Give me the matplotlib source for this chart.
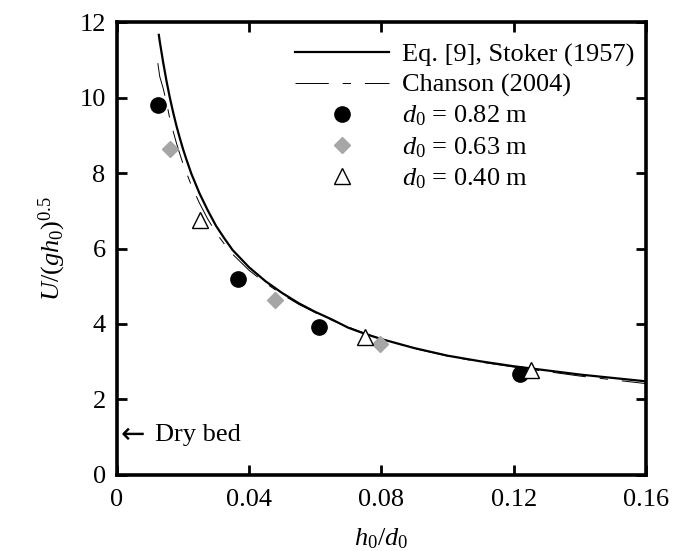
import matplotlib
matplotlib.use("Agg")
import matplotlib.pyplot as plt

# Stoker (1957) curve
stoker_x = [0.0127, 0.013, 0.014, 0.015, 0.016, 0.017, 0.018, 0.019, 0.020, 0.021,
            0.0225, 0.025, 0.0275, 0.030, 0.0325, 0.035, 0.040, 0.045, 0.050, 0.055,
            0.060, 0.065, 0.070, 0.075, 0.080, 0.090, 0.100, 0.110, 0.120, 0.130,
            0.140, 0.150, 0.160]
stoker_y = [11.66, 11.48, 10.94, 10.45, 10.01, 9.62, 9.26, 8.94, 8.64, 8.37,
            7.99, 7.46, 7.01, 6.60, 6.27, 5.96, 5.50, 5.13, 4.82, 4.55,
            4.32, 4.12, 3.90, 3.74, 3.60, 3.36, 3.16, 3.01, 2.88, 2.77,
            2.66, 2.57, 2.48]

# Chanson (2004) curve
chanson_x = [0.0124, 0.013, 0.014, 0.015, 0.016, 0.017, 0.018, 0.019, 0.020, 0.021,
             0.0225, 0.025, 0.0275, 0.030, 0.0325, 0.035, 0.040, 0.045, 0.050, 0.055,
             0.060, 0.065, 0.070, 0.075, 0.080, 0.090, 0.100, 0.110, 0.120, 0.130,
             0.140, 0.150, 0.160]
chanson_y = [10.91, 10.55, 10.25, 9.88, 9.45, 9.12, 8.80, 8.52, 8.25, 8.02,
             7.68, 7.20, 6.78, 6.42, 6.12, 5.85, 5.42, 5.08, 4.78, 4.52,
             4.30, 4.10, 3.92, 3.75, 3.60, 3.35, 3.15, 2.99, 2.86, 2.74,
             2.62, 2.52, 2.42]

# experiments
d082_x = [0.0124, 0.0366, 0.0611, 0.1219]
d082_y = [9.80, 5.19, 3.92, 2.68]
d063_x = [0.0160, 0.0478, 0.0796]
d063_y = [8.64, 4.64, 3.47]
d040_x = [0.0251, 0.0750, 0.1252]
d040_y = [6.75, 3.66, 2.78]

plt.rcParams['font.family'] = ['Liberation Serif', 'DejaVu Serif']
plt.rcParams['mathtext.fontset'] = 'custom'
plt.rcParams['mathtext.rm'] = 'Liberation Serif'
plt.rcParams['mathtext.it'] = 'Liberation Serif:italic'
plt.rcParams['font.size'] = 19
plt.rcParams['lines.scale_dashes'] = False

fig = plt.figure(figsize=(6.83, 5.51), dpi=100)
ax = fig.add_axes([0.171, 0.138, 0.775, 0.822])

ax.plot(stoker_x, stoker_y, color='black', lw=1.6, label='Eq. [9], Stoker (1957)')
ax.plot(chanson_x, chanson_y, color='black', lw=0.7, dashes=(24, 10, 6, 10),
        label='Chanson (2004)')
ax.plot(d082_x, d082_y, 'o', color='black', ms=11, label='$d_0$ = 0.82 m')
ax.plot(d063_x, d063_y, 'D', color='#a6a6a6', ms=8, label='$d_0$ = 0.63 m')
ax.plot(d040_x, d040_y, '^', mfc='white', mec='black', mew=1.0, ms=11,
        label='$d_0$ = 0.40 m')

# dry bed note
ax.text(0.0010, 1.06, '\u2190', va='center', ha='left', fontsize=21, family='DejaVu Sans')
ax.text(0.0115, 1.06, 'Dry bed', va='center', ha='left', fontsize=19)

ax.set_xlim(0, 0.16)
ax.set_ylim(0, 12)
ax.set_xticks([0, 0.04, 0.08, 0.12, 0.16])
ax.set_xticklabels(['0', '0.04', '0.08', '0.12', '0.16'])
ax.set_yticks([0, 2, 4, 6, 8, 10, 12])
ax.tick_params(direction='in', length=7, width=2, top=True, right=True,
               labelsize=19)
ax.tick_params(axis='x', pad=10)
ax.tick_params(axis='y', pad=8)
for s in ax.spines.values():
    s.set_linewidth(2.6)

ax.set_xlabel('$h_0/d_0$', fontsize=19, labelpad=11)
ax.set_ylabel('$U/(gh_0)^{0.5}$', fontsize=19, labelpad=8)

ax.legend(loc='upper right', bbox_to_anchor=(0.977, 0.954), frameon=False,
          handlelength=3.56, handletextpad=0.49, labelspacing=0.25,
          borderpad=0, borderaxespad=0, fontsize=19)

fig.savefig('out.png', dpi=100)
